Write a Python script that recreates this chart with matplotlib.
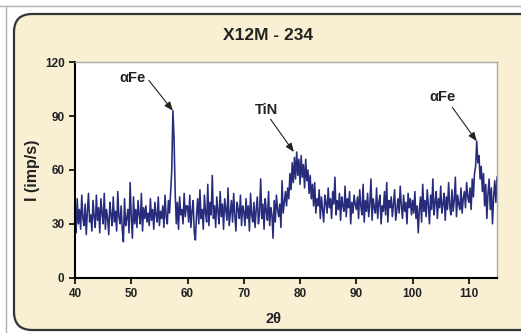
import numpy as np
import matplotlib
matplotlib.use("Agg")
import matplotlib.pyplot as plt
from matplotlib.patches import FancyBboxPatch
from matplotlib.lines import Line2D

plt.rcParams['font.family'] = ['Liberation Sans', 'DejaVu Sans']

# intensity readings, 2theta from 40 to 115 in steps of 0.2
i_40_50 = [36,25,44,30,38,27,46,33,29,41, 24,37,47,31,35,26,43,34,28,46,
           32,39,25,44,36,30,47,27,38,33, 24,42,35,29,45,31,37,26,48,34,
           30,40,27,20,44,29,33,38,25,53]
i_50_60 = [34,22,45,30,38,28,43,35,30,47, 26,39,33,40,31,36,29,44,32,38,
           27,42,35,31,45,29,37,33,40,28, 46,34,30,43,36,48,60,93,78,48,
           30,42,27,45,35,38,30,47,34,40]
i_60_70 = [40,31,46,28,37,43,25,21,35,44, 30,49,33,38,27,46,36,31,52,29,
           42,35,57,33,40,28,45,37,30,48, 34,41,27,44,38,32,50,29,36,43,
           31,47,35,26,42,38,33,46,29,40]
i_70_80 = [37,29,44,33,40,26,47,35,31,42, 28,38,45,30,36,55,33,41,27,44,
           37,32,48,29,39,35,22,43,31,46, 38,34,41,28,54,36,42,48,40,50,
           44,58,49,64,53,67,55,70,57,66]
i_80_90 = [52,68,56,63,50,66,54,60,47,57, 44,52,40,53,36,44,40,49,33,45,
           38,31,46,42,36,50,39,44,33,48, 41,56,35,43,38,47,32,45,40,37,
           51,34,44,39,48,30,42,36,46,41]
i_90_100 = [38,45,33,49,40,35,52,31,43,37, 47,34,41,55,32,44,39,36,50,33,
            42,46,30,40,37,48,35,53,31,43, 39,45,34,41,49,32,38,44,36,51,
            40,33,46,37,42,30,47,39,44,35]
i_100_110 = [43,36,48,33,40,25,38,45,31,52, 37,43,34,49,40,30,46,38,55,35,
             42,48,33,44,39,51,36,41,47,32, 45,38,53,40,35,49,37,43,56,34,
             46,41,38,50,36,44,48,39,53,45]
i_110_115 = [42,50,38,55,45,58,62,76,64,68,55,62,48,58,40,52,33,47,55,38,
             50,30,45,54,42,56]

intensity = np.array(i_40_50 + i_50_60 + i_60_70 + i_70_80 + i_80_90 +
                     i_90_100 + i_100_110 + i_110_115, dtype=float)
two_theta = 40 + 0.2 * np.arange(len(intensity))

x_ticks = [40, 50, 60, 70, 80, 90, 100, 110]
y_ticks = [0, 30, 60, 90, 120]

labels = ["\u03b1Fe", "TiN", "\u03b1Fe"]
label_pos = [(50.3, 111.5), (74.0, 93.7), (105.3, 100.4)]
peak_pos = [(57.4, 93), (78.9, 70), (111.4, 76)]
rel = [(1.0, 0.55), (0.6, 0.0), (0.8, 0.0)]

W, H = 521, 333
fig = plt.figure(figsize=(W / 100, H / 100), dpi=100)
fig.patch.set_facecolor('white')

# outer page lines
fig.add_artist(Line2D([0, 1], [1 - 5.5 / H, 1 - 5.5 / H], color='#b0b0b0', lw=1.0, zorder=-20))
fig.add_artist(Line2D([5.5 / W, 5.5 / W], [0, 1 - 5.5 / H], color='#b0b0b0', lw=1.0, zorder=-20))

# rounded beige frame
box = FancyBboxPatch((14 / W, 3 / H), (W + 20) / W, (H - 17) / H,
                     boxstyle="round,pad=0,rounding_size=0.035",
                     transform=fig.transFigure, facecolor='#f9f0d4',
                     edgecolor='#333333', lw=1.6, mutation_aspect=W / H,
                     zorder=-10)
fig.add_artist(box)

ax = fig.add_axes([75 / W, 1 - 277.7 / H, 422 / W, 215.4 / H])
ax.set_zorder(5)
ax.set_facecolor('white')
ax.plot(two_theta, intensity, color='#272b7c', lw=1.15)
ax.set_xlim(40, 115)
ax.set_ylim(0, 120)
ax.set_xticks(x_ticks)
ax.set_yticks(y_ticks)
ax.tick_params(direction='out', length=4, width=1.2, labelsize=8.5,
               labelcolor='#222222')
for lab in ax.get_xticklabels() + ax.get_yticklabels():
    lab.set_fontweight('bold')
for s in ['left', 'bottom']:
    ax.spines[s].set_linewidth(1.5)
    ax.spines[s].set_color('black')
for s in ['top', 'right']:
    ax.spines[s].set_linewidth(1.0)
    ax.spines[s].set_color('#a8a8a8')

for txt, tp, pp, rp in zip(labels, label_pos, peak_pos, rel):
    ax.annotate(txt, xy=pp, xytext=tp, ha='center', va='center',
                fontsize=10.5, fontweight='bold', color='#222222',
                arrowprops=dict(arrowstyle='-|>,head_length=0.5,head_width=0.2',
                                color='#222222', lw=0.8, relpos=rp,
                                shrinkA=0, shrinkB=0))

fig.text(268 / W, 1 - 35 / H, "X12M - 234", ha='center', va='center',
         fontsize=12.5, fontweight='bold', color='#222222')
fig.text(273 / W, 1 - 319 / H, "2\u03b8", ha='center', va='center',
         fontsize=10.5, fontweight='bold', color='#222222')
fig.text(33 / W, 1 - 170 / H, "I (imp/s)", ha='center', va='center',
         rotation=90, fontsize=11.5, fontweight='bold', color='#222222')

fig.savefig("out.png", dpi=100, facecolor=fig.get_facecolor())
